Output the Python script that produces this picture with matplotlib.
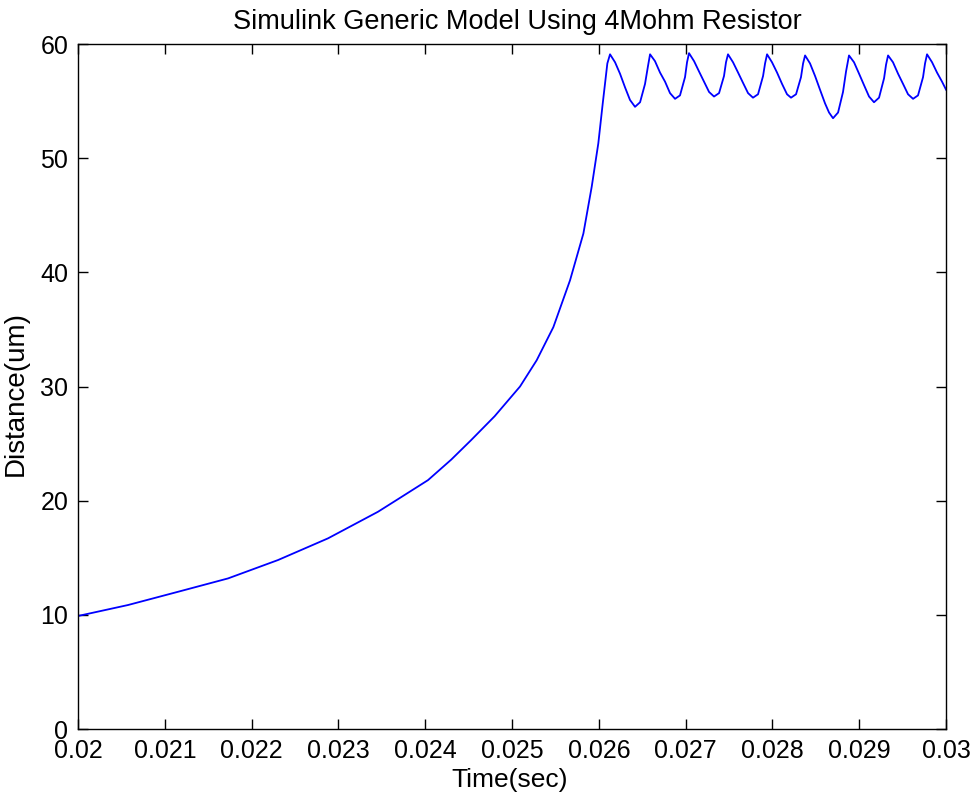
import matplotlib
matplotlib.use("Agg")
import matplotlib.pyplot as plt

# rising part
t_rise = [0.02000, 0.020576, 0.021152, 0.021728, 0.022304, 0.02288, 0.023456,
          0.02370, 0.024032, 0.02430, 0.024528, 0.02480, 0.025092, 0.025284,
          0.025476, 0.025668, 0.025822, 0.025918, 0.025994, 0.026045, 0.026098]
d_rise = [9.9, 10.86, 12.02, 13.19, 14.8, 16.7, 19.03,
          20.2, 21.8, 23.6, 25.3, 27.4, 30.0, 32.3,
          35.2, 39.3, 43.4, 47.5, 51.3, 54.8, 58.3]

# oscillating part, peak -> trough -> peak ...
t_osc = [0.026129, 0.026187, 0.026244, 0.026302, 0.026359, 0.026417, 0.026475, 0.026532, 0.026567,
         0.026590, 0.026647, 0.026705, 0.026763, 0.026820, 0.026878, 0.026935, 0.026993, 0.027016,
         0.027039, 0.027097, 0.027154, 0.027212, 0.027270, 0.027327, 0.027385, 0.027442, 0.027465,
         0.027488, 0.027546, 0.027604, 0.027661, 0.027719, 0.027776, 0.027834, 0.027892, 0.027915,
         0.027938, 0.027995, 0.028053, 0.028111, 0.028168, 0.028214, 0.028272, 0.028329, 0.028353,
         0.028376, 0.028433, 0.028491, 0.028548, 0.028606, 0.028652, 0.028698, 0.028756, 0.028813, 0.028848,
         0.028882, 0.028940, 0.028998, 0.029055, 0.029113, 0.029170, 0.029228, 0.029286, 0.029309,
         0.029332, 0.029389, 0.029447, 0.029505, 0.029562, 0.029620, 0.029677, 0.029735, 0.029758,
         0.029781, 0.029839, 0.029896, 0.029954, 0.030000]
d_osc = [59.1, 58.4, 57.4, 56.2, 55.1, 54.5, 54.9, 56.5, 58.1,
         59.1, 58.5, 57.5, 56.7, 55.7, 55.2, 55.5, 57.1, 58.4,
         59.2, 58.5, 57.6, 56.7, 55.8, 55.4, 55.7, 57.2, 58.4,
         59.1, 58.4, 57.5, 56.6, 55.7, 55.3, 55.6, 57.2, 58.3,
         59.1, 58.4, 57.5, 56.5, 55.6, 55.3, 55.6, 57.1, 58.3,
         59.0, 58.3, 57.2, 56.0, 54.8, 54.0, 53.5, 54.0, 55.8, 57.6,
         59.0, 58.4, 57.4, 56.4, 55.4, 54.9, 55.3, 57.0, 58.2,
         59.0, 58.4, 57.4, 56.5, 55.6, 55.2, 55.5, 57.1, 58.3,
         59.1, 58.4, 57.5, 56.7, 56.0]

t = t_rise + t_osc
d = d_rise + d_osc

xticks = [0.02, 0.021, 0.022, 0.023, 0.024, 0.025, 0.026, 0.027, 0.028, 0.029, 0.03]
xticklabels = ["0.02", "0.021", "0.022", "0.023", "0.024", "0.025", "0.026",
               "0.027", "0.028", "0.029", "0.03"]
yticks = [0, 10, 20, 30, 40, 50, 60]

plt.rcParams['font.family'] = ['Liberation Sans', 'DejaVu Sans']

fig = plt.figure(figsize=(9.74, 7.99), dpi=100)
ax = fig.add_axes([0.0801, 0.0876, 0.8912, 0.8573])
ax.plot(t, d, color=(0, 0, 1), linewidth=1.3)

ax.set_xlim(0.02, 0.03)
ax.set_ylim(0, 60)
ax.set_xticks(xticks)
ax.set_xticklabels(xticklabels)
ax.set_yticks(yticks)
ax.tick_params(direction='in', top=True, right=True, length=7, width=1,
               labelsize=18)
ax.tick_params(axis='x', pad=7)
ax.tick_params(axis='y', pad=7)
for s in ax.spines.values():
    s.set_linewidth(1)

ax.set_title('Simulink Generic Model Using 4Mohm Resistor', fontsize=19.5, pad=11, x=0.506)
ax.set_xlabel('Time(sec)', fontsize=19)
ax.set_ylabel('Distance(um)', fontsize=20)
ax.xaxis.set_label_coords(0.497, -0.057)
ax.yaxis.set_label_coords(-0.0565, 0.4905)

fig.savefig('out.png', dpi=100)
